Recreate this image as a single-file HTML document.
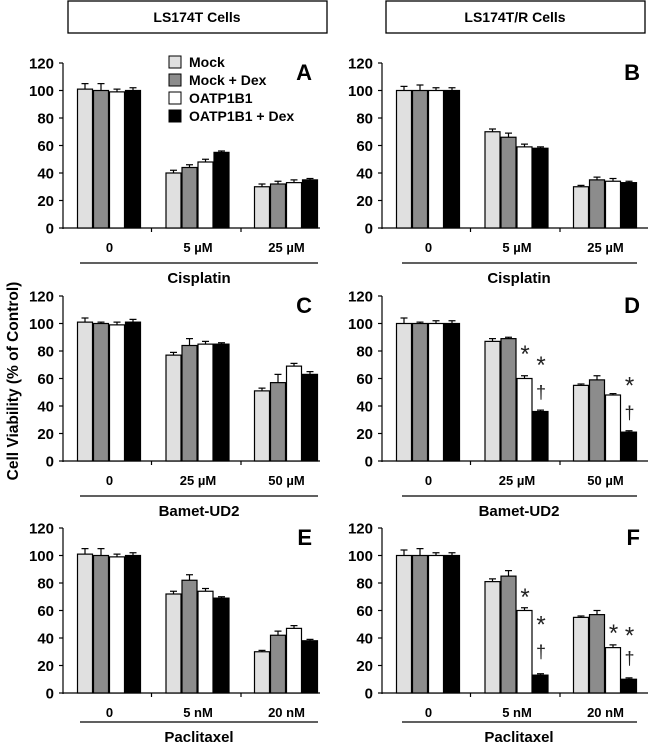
<!DOCTYPE html>
<html><head><meta charset="utf-8"><style>
body{margin:0;background:#fff}
svg{display:block;font-family:"Liberation Sans",Arial,sans-serif;font-weight:bold}
</style></head><body>
<svg id="chart" width="650" height="744" viewBox="0 0 650 744" xmlns="http://www.w3.org/2000/svg">
<rect x="68" y="1" width="259" height="32" fill="#fff" stroke="#000" stroke-width="1.3"/>
<text x="197" y="22" text-anchor="middle" font-size="14">LS174T Cells</text>
<rect x="386" y="1" width="259" height="32" fill="#fff" stroke="#000" stroke-width="1.3"/>
<text x="515" y="22" text-anchor="middle" font-size="14">LS174T/R Cells</text>
<text transform="translate(18,381) rotate(-90)" text-anchor="middle" font-size="15.5">Cell Viability  (% of Control)</text>
<g id="panels"></g>
<g>
<rect x="169" y="56" width="12" height="12" fill="#e0e0e0" stroke="#000"/>
<text x="189" y="67" font-size="14">Mock</text>
<rect x="169" y="74" width="12" height="12" fill="#8c8c8c" stroke="#000"/>
<text x="189" y="85" font-size="14">Mock + Dex</text>
<rect x="169" y="92" width="12" height="12" fill="#fff" stroke="#000"/>
<text x="189" y="103" font-size="14">OATP1B1</text>
<rect x="169" y="110" width="12" height="12" fill="#000" stroke="#000"/>
<text x="189" y="121" font-size="14">OATP1B1 + Dex</text>
</g>
</svg>
<script>
const yTicks=[0,20,40,60,80,100,120];
const panelLetters=["A","B","C","D","E","F"];
const drugNames=["Cisplatin","Cisplatin","Bamet-UD2","Bamet-UD2","Paclitaxel","Paclitaxel"];
const categoriesA=["0","5 µM","25 µM"];
const categoriesC=["0","25 µM","50 µM"];
const categoriesE=["0","5 nM","20 nM"];
const valuesA=[[101,100,99,100],[40,44,48,55],[30,32,33,35]];
const valuesB=[[100,100,100,100],[70,66,59,58],[30,35,34,33]];
const valuesC=[[101,100,99,101],[77,84,85,85],[51,57,69,63]];
const valuesD=[[100,100,100,100],[87,89,60,36],[55,59,48,21]];
const valuesE=[[101,100,99,100],[72,82,74,69],[30,42,47,38]];
const valuesF=[[100,100,100,100],[81,85,60,13],[55,57,33,10]];
const errorsA=[[4,5,2,2],[2,2,2,1],[2,2,2,1]];
const errorsB=[[3,4,2,2],[2,3,2,1],[1,2,2,1]];
const errorsC=[[3,1,2,2],[2,5,2,1],[2,6,2,2]];
const errorsD=[[4,1,2,2],[2,1,2,1],[1,3,1,1]];
const errorsE=[[4,5,2,2],[2,4,2,1],[1,3,2,1]];
const errorsF=[[4,5,2,2],[2,4,2,1],[1,3,2,1]];
// markers: [group, bar, value-level, symbol]
const marksD=[[1,2,80,"*"],[1,3,72,"*"],[1,3,50,"†"],[2,3,57,"*"],[2,3,35,"†"]];
const marksF=[[1,2,72,"*"],[1,3,52,"*"],[1,3,30,"†"],[2,2,46,"*"],[2,3,44,"*"],[2,3,25,"†"]];
const colors=["#e0e0e0","#8c8c8c","#ffffff","#000000"];
const NS="http://www.w3.org/2000/svg";
const root=document.getElementById("panels");
function mk(tag,attrs,parent){const e=document.createElementNS(NS,tag);for(const k in attrs)e.setAttribute(k,attrs[k]);(parent||root).appendChild(e);return e;}
const panels=[
 {v:valuesA,e:errorsA,c:categoriesA,m:[]},{v:valuesB,e:errorsB,c:categoriesA,m:[]},
 {v:valuesC,e:errorsC,c:categoriesC,m:[]},{v:valuesD,e:errorsD,c:categoriesC,m:marksD},
 {v:valuesE,e:errorsE,c:categoriesE,m:[]},{v:valuesF,e:errorsF,c:categoriesE,m:marksF}];
const rowY0=[228,461,693];
const lineOff=[35,35,29], titleOff=[55,55,49], catOff=[24,24,24];
panels.forEach((p,i)=>{
 const col=i%2,row=Math.floor(i/2);
 const ox=col?382:63, y0=rowY0[row], axEnd=col?648:320;
 const y=v=>y0-v*165/120;
 const gx=g=>ox+46.5+g*88.5;
 const g=mk("g",{});
 
 
 let ax=mk("line",{x1:ox,y1:y(120),x2:ox,y2:y0+1,stroke:"#000","stroke-width":1.2},g);
 
 
 yTicks.forEach(t=>{
  mk("line",{x1:ox-4,x2:ox,y1:y(t),y2:y(t),stroke:"#000","stroke-width":1.2},g);
  const tx=mk("text",{x:ox-9,y:y(t)+5.5,"text-anchor":"end","font-size":15},g);tx.textContent=t;
  
  
 });
 let xa=mk("line",{x1:ox,x2:axEnd,y1:y0,y2:y0,stroke:"#000","stroke-width":1.2},g);
 
 
 [1,2,3].forEach(k=>{const xx=ox+k*89.5-1;if(xx<=axEnd)mk("line",{x1:xx,x2:xx,y1:y0,y2:y0+4,stroke:"#000","stroke-width":1.2},g);});
 p.v.forEach((grp,gi)=>{
  grp.forEach((val,bi)=>{
   const bx=gx(gi)-32+bi*16;
   const er=p.e[gi][bi];
   mk("line",{x1:bx+7.5,x2:bx+7.5,y1:y(val),y2:y(val+er),stroke:"#000","stroke-width":1.2},g);
   mk("line",{x1:bx+4,x2:bx+11,y1:y(val+er),y2:y(val+er),stroke:"#000","stroke-width":1.2},g);
   const r=mk("rect",{x:bx,y:y(val),width:15,height:y0-y(val),fill:colors[bi],stroke:"#000","stroke-width":1.2},g);
   
   
  });
  const cl=mk("text",{x:gx(gi),y:y0+catOff[row],"text-anchor":"middle","font-size":13},g);cl.textContent=p.c[gi];
  
  
 });
 p.m.forEach(m=>{
  const t=mk("text",{x:gx(m[0])-32+m[1]*16+8,y:y(m[2])+(m[3]=="*"?11:6),"text-anchor":"middle","font-size":m[3]=="*"?24:18,"font-weight":"normal",fill:"#222"},g);
  t.textContent=m[3];
  
  
 });
 mk("line",{x1:col?402:80,x2:col?637:318,y1:y0+lineOff[row],y2:y0+lineOff[row],stroke:"#000","stroke-width":1.3},g);
 const dn=mk("text",{x:col?519:199,y:y0+titleOff[row],"text-anchor":"middle","font-size":15},g);dn.textContent=drugNames[i];
 
 
 const pl=mk("text",{x:axEnd-8,y:y(120)+17,"text-anchor":"end","font-size":22},g);pl.textContent=panelLetters[i];
 
 
});
</script>
</body></html>
